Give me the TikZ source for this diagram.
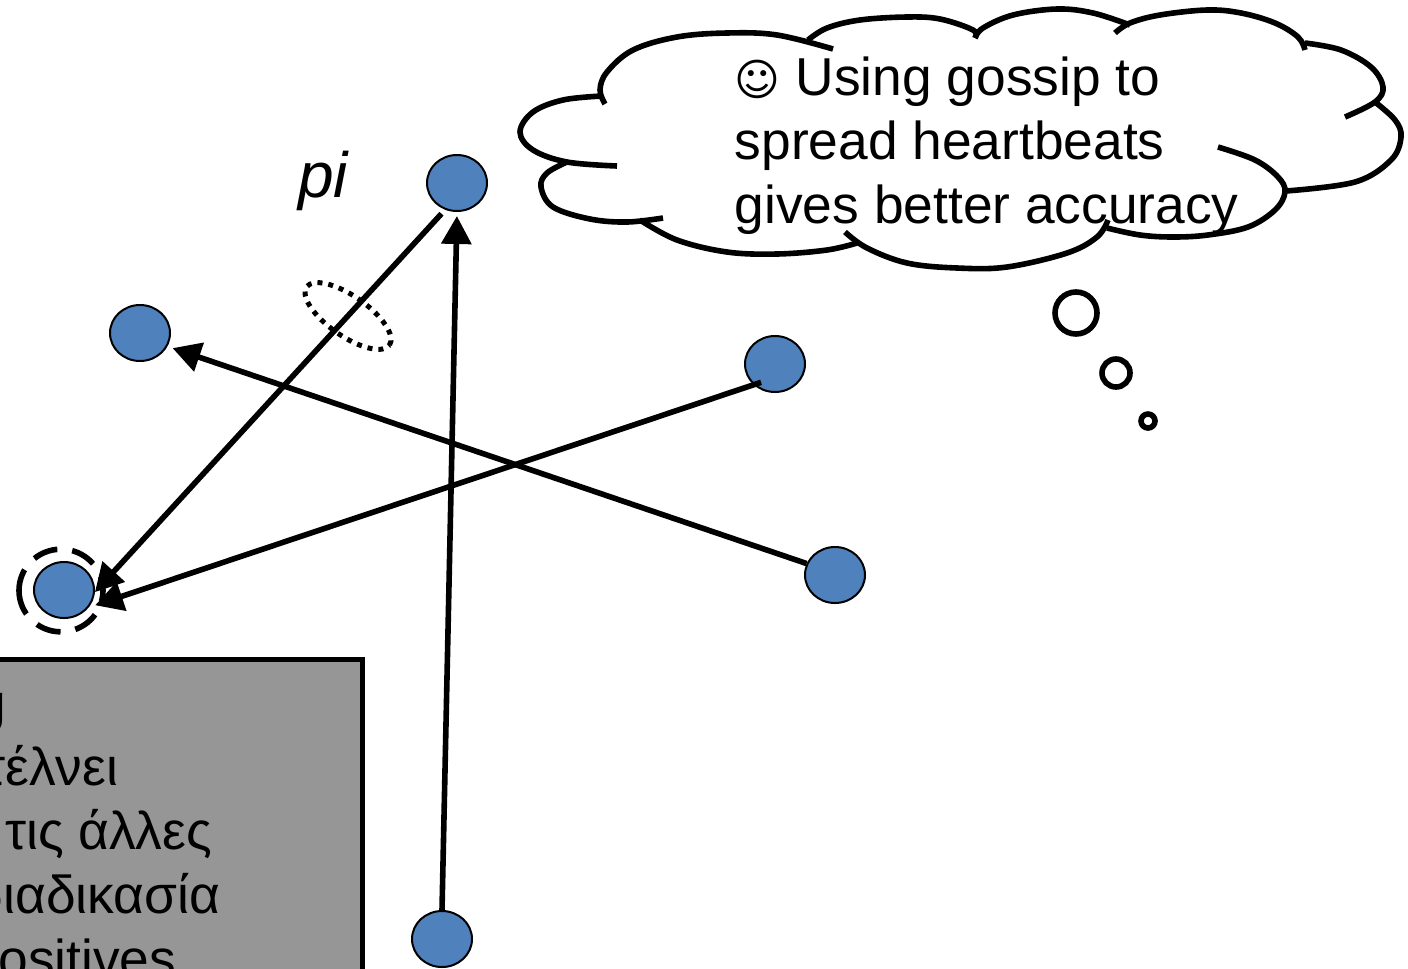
\documentclass[tikz,border=0pt]{standalone}
\usepackage{fontspec}
\setmainfont{Liberation Sans}
\newfontfamily\symbfont{DejaVu Sans}
\usetikzlibrary{arrows.meta,shapes.geometric}
\definecolor{procblue}{RGB}{79,129,189}
\definecolor{boxgray}{RGB}{150,150,150}
\begin{document}
\begin{tikzpicture}[x=0.75pt, y=-0.75pt, line width=4.2pt]
	\tikzstyle{proc} = [shape=ellipse, draw, fill=procblue, line width=1.5pt, inner sep=0pt, minimum width=45pt, minimum height=42pt]
	\tikzstyle{link} = [-{Triangle[length=21pt, width=22pt]}]
	\tikzstyle{bubble} = [shape=circle, draw, fill=white, inner sep=0pt]
	\tikzstyle{boxtxt} = [anchor=base east, inner sep=0pt, font=\fontsize{40}{48}\selectfont]
	\tikzstyle{lobe} = [line cap=butt]
	\useasboundingbox (0,0) rectangle (1408,968);
	\clip (0,0) rectangle (1408,968);
	% gray box runs off the page
	\draw[fill=boxgray] (-20,659.5) -- (362.5,659.5) -- (362.5,990) -- (-20,990) -- cycle;
	\node[boxtxt] (line1) at (9,721) {g};
	\node[boxtxt] (line2) at (121,785) {στέλνει};
	\node[boxtxt] (line3) at (215,849) {τις άλλες};
	\node[boxtxt] (line4) at (223,913) {διαδικασία};
	\node[boxtxt] (line5) at (179,977) {positives};
	% processes
	\node[proc] (pi) at (457,183) {};
	\node[proc] (pleft) at (140,333) {};
	\node[proc] (pright) at (775,364) {};
	\node[proc] (plow) at (835,575) {};
	\node[proc] (pbottom) at (442,939) {};
	\node[proc] (ptarget) at (64,590) {};
	\node[shape=ellipse, draw, rotate=180, dash pattern=on 18.75pt off 11.25pt, inner sep=0pt, minimum width=63pt, minimum height=62pt] (ring) at (61,590.5) {};
	\node[font=\fontsize{48}{58}\selectfont\itshape, inner sep=0pt, anchor=base] (pilabel) at (323,197) {pi};
	% heartbeats
	\draw[link, shorten <=4pt] (pi.246) -- (ptarget.-4);
	\draw[link, shorten <=-6pt, shorten >=5pt] (pright.224) -- (ptarget.-35);
	\draw[link, shorten >=3pt] (pbottom.north) -- (pi.south);
	\draw[link, shorten >=4pt] (plow.158) -- (pleft.-26);
	\node[shape=ellipse, draw, rotate=-35, line width=3.75pt, dash pattern=on 3.75pt off 4.5pt, inner sep=0pt, minimum width=76pt, minimum height=30pt] (lost) at (348,316) {};
	% cloud
	\draw[lobe] plot[smooth, tension=.6] coordinates {(605,104) (600,90) (607,72) (633,50) (677,37) (727,33) (777,35) (833,49)};
	\draw[lobe] plot[smooth, tension=.6] coordinates {(808,40) (827,28) (860,20) (907,17) (940,19) (973,30) (975,38)};
	\draw[lobe] plot[smooth, tension=.6] coordinates {(975,38) (983,28) (1013,15) (1057,9) (1093,13) (1130,25)};
	\draw[lobe] plot[smooth, tension=.6] coordinates {(1115,33) (1130,23) (1160,15) (1207,10) (1241,13) (1275,23) (1298,37) (1305,50)};
	\draw[lobe] plot[smooth, tension=.6] coordinates {(1305,43) (1341,50) (1371,67) (1383,87) (1375,102) (1345,117)};
	\draw[lobe] plot[smooth, tension=.6] coordinates {(1375,102) (1395,120) (1401,137) (1391,160) (1355,182) (1286,191)};
	\draw[lobe] plot[smooth, tension=.6] coordinates {(1218,147) (1255,160) (1278,177) (1285,192) (1275,210) (1248,227) (1208,235) (1173,237) (1140,235) (1107,228)};
	\draw[lobe] plot[smooth, tension=.6] coordinates {(1108,220) (1097,237) (1067,253) (1007,267) (957,268) (907,263) (867,248) (845,232)};
	\draw[lobe] plot[smooth, tension=.6] coordinates {(857,243) (827,250) (777,254) (727,252) (677,240) (640,220)};
	\draw[lobe] plot[smooth, tension=.6] coordinates {(663,218) (627,222) (590,219) (553,207) (541,187) (547,173) (567,162)};
	\draw[lobe] plot[smooth, tension=.6] coordinates {(617,166) (567,162) (533,150) (520,132) (533,112) (563,100) (602,96)};
	\node[anchor=north west, inner sep=0pt, align=left, font=\fontsize{40}{48}\selectfont] (thought) at (732,54) {\makebox[45.75pt][l]{\symbfont\fontsize{33}{48}\selectfont ☺}Using gossip to\\spread heartbeats\\gives better accuracy};
	\node[bubble, minimum size=31.5pt] (bub1) at (1076,313) {};
	\node[bubble, minimum size=21pt] (bub2) at (1116,373) {};
	\node[bubble, minimum size=10.5pt] (bub3) at (1148,421) {};
\end{tikzpicture}
\end{document}
